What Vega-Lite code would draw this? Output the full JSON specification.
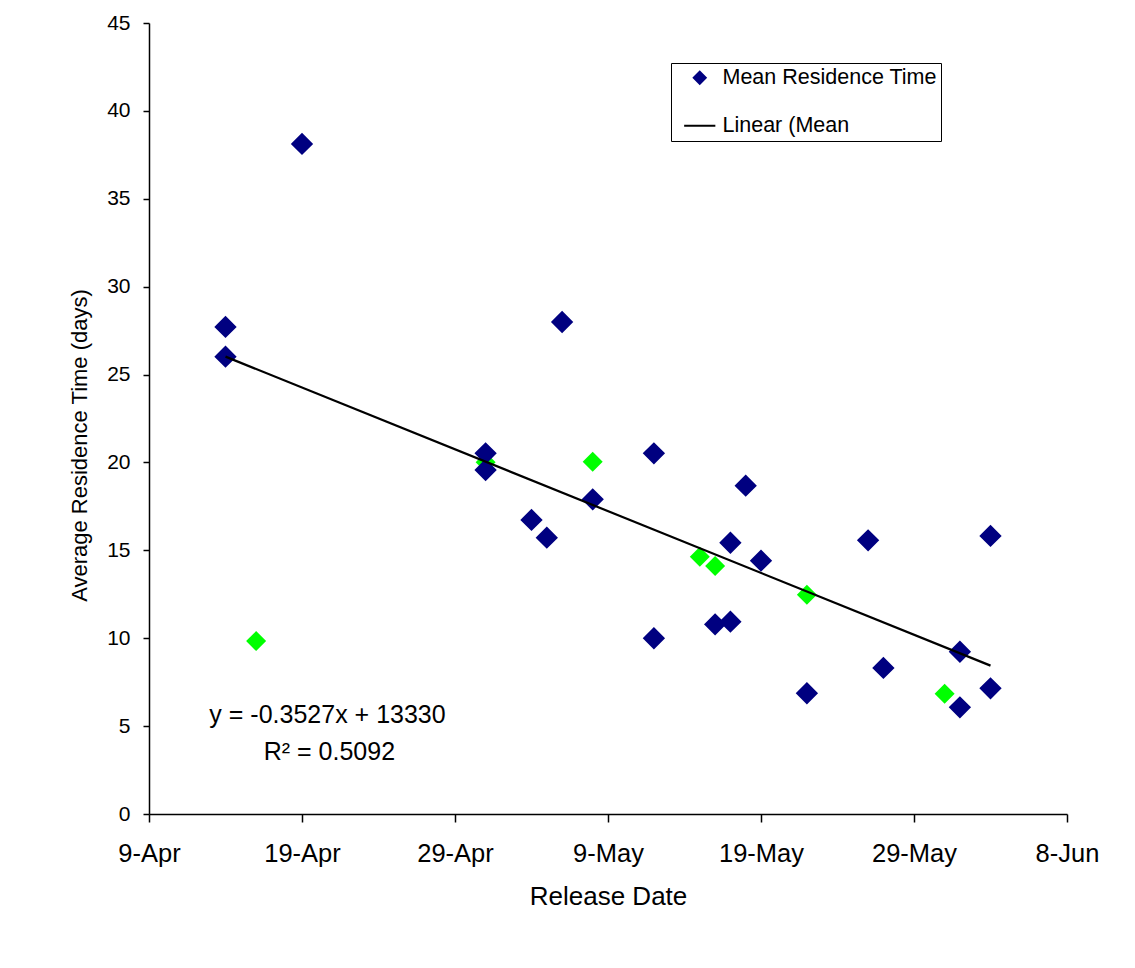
{
  "$schema": "https://vega.github.io/schema/vega-lite/v6.json",
  "width": 918,
  "height": 791,
  "autosize": "none",
  "padding": {"left": 149, "top": 23, "right": 68, "bottom": 154},
  "background": "white",
  "config": {
    "view": {"stroke": null},
    "font": "Liberation Sans",
    "axis": {
      "labelFont": "Liberation Sans",
      "titleFont": "Liberation Sans",
      "labelColor": "#000",
      "titleColor": "#000",
      "domainColor": "#000",
      "tickColor": "#000",
      "domainWidth": 1.5,
      "tickWidth": 1.5,
      "grid": false,
      "titleFontWeight": "normal"
    },
    "legend": {
      "title": null,
      "orient": "none",
      "legendX": 522,
      "legendY": 40,
      "direction": "vertical",
      "padding": 4,
      "strokeColor": "#000",
      "fillColor": "#fff",
      "symbolSize": 144,
      "symbolOpacity": 1,
      "symbolStrokeWidth": 2,
      "symbolOffset": 14,
      "labelOffset": 12,
      "labelFontSize": 21.5,
      "labelFont": "Liberation Sans",
      "labelColor": "#000",
      "labelLimit": 400,
      "rowPadding": 25
    }
  },
  "datasets": {
    "residence": [
      {"date": "2003-04-14", "time": 27.71, "series": "Mean Residence Time"},
      {"date": "2003-04-14", "time": 26.02, "series": "Mean Residence Time"},
      {"date": "2003-04-19", "time": 38.12, "series": "Mean Residence Time"},
      {"date": "2003-05-01", "time": 20.52, "series": "Mean Residence Time"},
      {"date": "2003-05-01", "time": 19.57, "series": "Mean Residence Time"},
      {"date": "2003-05-04", "time": 16.73, "series": "Mean Residence Time"},
      {"date": "2003-05-05", "time": 15.72, "series": "Mean Residence Time"},
      {"date": "2003-05-06", "time": 27.99, "series": "Mean Residence Time"},
      {"date": "2003-05-08", "time": 17.9, "series": "Mean Residence Time"},
      {"date": "2003-05-12", "time": 20.52, "series": "Mean Residence Time"},
      {"date": "2003-05-12", "time": 10.0, "series": "Mean Residence Time"},
      {"date": "2003-05-16", "time": 10.79, "series": "Mean Residence Time"},
      {"date": "2003-05-17", "time": 10.94, "series": "Mean Residence Time"},
      {"date": "2003-05-17", "time": 15.43, "series": "Mean Residence Time"},
      {"date": "2003-05-18", "time": 18.68, "series": "Mean Residence Time"},
      {"date": "2003-05-19", "time": 14.41, "series": "Mean Residence Time"},
      {"date": "2003-05-22", "time": 6.87, "series": "Mean Residence Time"},
      {"date": "2003-05-26", "time": 15.57, "series": "Mean Residence Time"},
      {"date": "2003-05-27", "time": 8.31, "series": "Mean Residence Time"},
      {"date": "2003-06-01", "time": 9.23, "series": "Mean Residence Time"},
      {"date": "2003-06-01", "time": 6.07, "series": "Mean Residence Time"},
      {"date": "2003-06-03", "time": 15.82, "series": "Mean Residence Time"},
      {"date": "2003-06-03", "time": 7.15, "series": "Mean Residence Time"},
      {"date": "2003-04-16", "time": 9.84, "series": "Series 2"},
      {"date": "2003-05-01", "time": 20.01, "series": "Series 2"},
      {"date": "2003-05-08", "time": 20.04, "series": "Series 2"},
      {"date": "2003-05-15", "time": 14.64, "series": "Series 2"},
      {"date": "2003-05-16", "time": 14.11, "series": "Series 2"},
      {"date": "2003-05-22", "time": 12.48, "series": "Series 2"},
      {"date": "2003-05-31", "time": 6.84, "series": "Series 2"}
    ],
    "trendline": [
      {"date": "2003-04-14", "time": 26.02},
      {"date": "2003-06-03", "time": 8.44}
    ]
  },
  "layer": [
    {
      "data": {"name": "residence"},
      "transform": [{"filter": "datum.series === 'Series 2'"}],
      "mark": {"type": "point", "shape": "diamond", "filled": true, "size": 400, "color": "#00FF00", "opacity": 1},
      "encoding": {
        "x": {
          "field": "date",
          "type": "temporal",
          "scale": {
            "type": "utc",
            "domain": [
              {"year": 2003, "month": 4, "date": 9, "utc": true},
              {"year": 2003, "month": 6, "date": 8, "utc": true}
            ]
          },
          "axis": {
            "title": "Release Date",
            "values": [
              {"year": 2003, "month": 4, "date": 9, "utc": true},
              {"year": 2003, "month": 4, "date": 19, "utc": true},
              {"year": 2003, "month": 4, "date": 29, "utc": true},
              {"year": 2003, "month": 5, "date": 9, "utc": true},
              {"year": 2003, "month": 5, "date": 19, "utc": true},
              {"year": 2003, "month": 5, "date": 29, "utc": true},
              {"year": 2003, "month": 6, "date": 8, "utc": true}
            ],
            "labelExpr": "utcFormat(datum.value, '%-d-%b')",
            "labelFontSize": 25.5,
            "titleFontSize": 26,
            "tickSize": 8,
            "labelPadding": 19,
            "titleY": 69,
            "titleBaseline": "top",
            "labelFlush": false,
            "labelOverlap": false,
            "labelBound": false
          }
        },
        "y": {
          "field": "time",
          "type": "quantitative",
          "scale": {"domain": [0, 45], "nice": false},
          "axis": {
            "title": "Average Residence Time (days)",
            "values": [0, 5, 10, 15, 20, 25, 30, 35, 40, 45],
            "labelFontSize": 21,
            "titleFontSize": 22,
            "tickSize": 6,
            "labelPadding": 13,
            "titleX": -58,
            "titleY": 422,
            "titleAngle": 270,
            "titleAlign": "center",
            "titleBaseline": "bottom"
          }
        }
      }
    },
    {
      "data": {"name": "residence"},
      "transform": [{"filter": "datum.series === 'Mean Residence Time'"}],
      "mark": {"type": "point", "filled": true, "size": 380, "opacity": 1},
      "encoding": {
        "x": {"field": "date", "type": "temporal"},
        "y": {"field": "time", "type": "quantitative"},
        "color": {
          "field": "series",
          "type": "nominal",
          "scale": {"domain": ["Mean Residence Time", "Linear (Mean"], "range": ["#000080", "#000000"]}
        },
        "stroke": {
          "field": "series",
          "type": "nominal",
          "scale": {"domain": ["Mean Residence Time", "Linear (Mean"], "range": ["#000080", "#000000"]}
        },
        "shape": {
          "field": "series",
          "type": "nominal",
          "scale": {"domain": ["Mean Residence Time", "Linear (Mean"], "range": ["diamond", "M-2.6,0L2.6,0"]}
        }
      }
    },
    {
      "data": {"name": "trendline"},
      "mark": {"type": "line", "color": "#000", "strokeWidth": 2.2},
      "encoding": {
        "x": {"field": "date", "type": "temporal"},
        "y": {"field": "time", "type": "quantitative"}
      }
    },
    {
      "data": {"values": [{"label": "y = -0.3527x + 13330"}]},
      "mark": {"type": "text", "align": "center", "baseline": "alphabetic", "fontSize": 25, "font": "Liberation Sans", "color": "#000"},
      "encoding": {
        "x": {"datum": 1050854400000, "type": "temporal"},
        "y": {"datum": 5.16, "type": "quantitative"},
        "text": {"field": "label", "type": "nominal"}
      }
    },
    {
      "data": {"values": [{"label": "R² = 0.5092"}]},
      "mark": {"type": "text", "align": "center", "baseline": "alphabetic", "fontSize": 25, "font": "Liberation Sans", "color": "#000"},
      "encoding": {
        "x": {"datum": 1050865200000, "type": "temporal"},
        "y": {"datum": 3.07, "type": "quantitative"},
        "text": {"field": "label", "type": "nominal"}
      }
    }
  ]
}
